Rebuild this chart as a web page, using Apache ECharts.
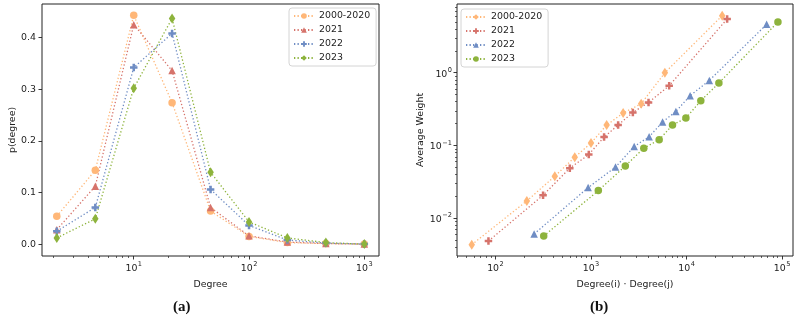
<!DOCTYPE html>
<html>
<head>
<meta charset="utf-8">
<script src="https://cdn.jsdelivr.net/npm/echarts@6/dist/echarts.min.js"></script>
<style>
  html, body { margin: 0; padding: 0; background: #fff; }
  #chart { width: 797px; height: 321px; }
</style>
</head>
<body>
<div id="chart"></div>
<script>
// (a) degree distribution
const degrees = [2.15, 4.64, 10, 21.5, 46.4, 100, 215, 464, 1000];
const pAll = [0.054, 0.143, 0.443, 0.274, 0.064, 0.015, 0.003, 0.001, 0.000];
const p2021 = [0.028, 0.112, 0.425, 0.336, 0.071, 0.016, 0.004, 0.001, 0.000];
const p2022 = [0.025, 0.071, 0.342, 0.408, 0.106, 0.036, 0.008, 0.002, 0.000];
const p2023 = [0.012, 0.049, 0.302, 0.437, 0.139, 0.043, 0.012, 0.003, 0.000];

// (b) average weight vs degree product
const xAll = [56.5, 213, 418, 676, 1000, 1458, 2170, 3350, 5930, 23600];
const wAll = [0.00434, 0.0173, 0.0378, 0.069, 0.108, 0.191, 0.279, 0.375, 1.0, 6.08];
const x2021 = [84.5, 315, 600, 948, 1371, 1923, 2742, 4000, 6580, 26600];
const w2021 = [0.00487, 0.0207, 0.0488, 0.0752, 0.1306, 0.191, 0.285, 0.39, 0.663, 5.48];
const x2022 = [254, 933, 1806, 2830, 4060, 5610, 7730, 10900, 17300, 68900];
const w2022 = [0.00608, 0.0264, 0.0505, 0.0969, 0.132, 0.21, 0.294, 0.483, 0.784, 4.62];
const x2023 = [320, 1193, 2286, 3570, 5170, 7130, 9840, 14100, 21800, 90400];
const w2023 = [0.0057, 0.024, 0.0523, 0.092, 0.12, 0.191, 0.238, 0.412, 0.722, 4.98];

const seriesNames = ["2000-2020", "2021", "2022", "2023"];
const colors = ["#ffb778", "#d6736b", "#6f8dc4", "#8db33c"];

// tick labels
const leftXTicks = [10, 100, 1000];
const leftYTicks = [0, 0.1, 0.2, 0.3, 0.4];
const rightXTicks = [100, 1000, 10000, 100000];
const rightYTicks = [0.01, 0.1, 1];

const FONT = "DejaVu Sans";
const FS = 9.4;
const PLUS = "path://M2,0H4V2H6V4H4V6H2V4H0V2H2Z";

// minor log ticks 2..9 x 10^k inside [lo, hi]
function minorTicks(lo, hi) {
  const out = [];
  for (let e = Math.floor(Math.log10(lo)); e <= Math.ceil(Math.log10(hi)); e++) {
    for (let m = 2; m <= 9; m++) {
      const v = m * Math.pow(10, e);
      if (v >= lo && v <= hi) out.push(v);
    }
  }
  return out;
}

function pow10Label(v) {
  const e = Math.round(Math.log10(v));
  return "{b|10}{e|" + (e < 0 ? "\u2212" + (-e) : e) + "}";
}

const supRich = {
  b: { fontFamily: FONT, fontSize: FS, color: "#222", lineHeight: 12, verticalAlign: "bottom" },
  e: { fontFamily: FONT, fontSize: 6.6, color: "#222", lineHeight: 12, verticalAlign: "top", padding: [0, 0, 0, 0.5] }
};

function logAxis(gridIndex, min, max, ticks, minor, extra) {
  return [
    Object.assign({
      type: "log", logBase: 10, gridIndex, min, max,
      axisLine: { show: false, onZero: false },
      splitLine: { show: false },
      axisTick: { show: true, length: 3.5, customValues: ticks, lineStyle: { color: "#222", width: 0.9 } },
      axisLabel: { customValues: ticks, formatter: pow10Label, rich: supRich, margin: 5, color: "#222" },
      nameTextStyle: { fontFamily: FONT, fontSize: FS, color: "#222" }
    }, extra),
    {
      type: "log", logBase: 10, gridIndex, min, max,
      position: extra.position,
      axisLine: { show: false, onZero: false },
      splitLine: { show: false },
      axisLabel: { show: false },
      axisTick: { show: true, length: 2, customValues: minor, lineStyle: { color: "#222", width: 0.7 } }
    }
  ];
}

const leftX = logAxis(0, 1.6, 1341, leftXTicks, minorTicks(1.6, 1341), {
  position: "bottom", name: "Degree", nameLocation: "middle", nameGap: 24
});
const rightX = logAxis(1, 39.6, 130000, rightXTicks, minorTicks(39.6, 130000), {
  position: "bottom", name: "Degree(i) \u00b7 Degree(j)", nameLocation: "middle", nameGap: 24
});
const rightY = logAxis(1, 0.00303, 8.8, rightYTicks, minorTicks(0.00303, 8.8), {
  position: "left", name: "Average Weight", nameLocation: "middle", nameGap: 32
});

const leftY = {
  type: "value", gridIndex: 0, min: -0.023, max: 0.465,
  axisLine: { show: false, onZero: false },
  splitLine: { show: false },
  axisTick: { show: true, length: 3.5, customValues: leftYTicks, lineStyle: { color: "#222", width: 0.9 } },
  axisLabel: { customValues: leftYTicks, formatter: v => v.toFixed(1), fontFamily: FONT, fontSize: FS, color: "#222", margin: 6 },
  name: "p(degree)", nameLocation: "middle", nameGap: 24,
  nameTextStyle: { fontFamily: FONT, fontSize: FS, color: "#222" }
};

const dotted = [1.3, 2.2];

function line(name, xs, ys, xAxisIndex, yAxisIndex, color, symbol, symbolSize) {
  return {
    name, type: "line", xAxisIndex, yAxisIndex,
    data: xs.map((x, i) => [x, ys[i]]),
    symbol, symbolSize, showSymbol: true,
    lineStyle: { color, width: 1.3, type: dotted },
    itemStyle: { color, borderWidth: 0 },
    emphasis: { disabled: true },
    animation: false
  };
}

const legendBase = {
  orient: "vertical",
  itemWidth: 20, itemHeight: 7, itemGap: 4,
  borderColor: "#d4d4d4", borderWidth: 1, borderRadius: 3,
  backgroundColor: "rgba(255,255,255,0.85)",
  padding: [3, 6, 3, 4],
  textStyle: { fontFamily: FONT, fontSize: FS, color: "#222", lineHeight: 10 },
  selectedMode: false
};

const chart = echarts.init(document.getElementById("chart"), null, { renderer: "canvas" });
chart.setOption({
  animation: false,
  textStyle: { fontFamily: FONT },
  grid: [
    { left: 42, right: 418, top: 4, bottom: 65, show: true, borderColor: "#222", borderWidth: 1, backgroundColor: "transparent" },
    { left: 457, right: 4, top: 4, bottom: 65, show: true, borderColor: "#222", borderWidth: 1, backgroundColor: "transparent" }
  ],
  xAxis: [...leftX, ...rightX],
  yAxis: [leftY, ...rightY],
  legend: [
    Object.assign({}, legendBase, { left: 289, top: 8, data: seriesNames }),
    Object.assign({}, legendBase, {
      left: 461, top: 9,
      data: seriesNames.map(n => "(b) " + n),
      formatter: n => n.replace("(b) ", "")
    })
  ],
  series: [
    line(seriesNames[0], degrees, pAll, 0, 0, colors[0], "circle", 7.5),
    line(seriesNames[1], degrees, p2021, 0, 0, colors[1], "triangle", 7.5),
    line(seriesNames[2], degrees, p2022, 0, 0, colors[2], PLUS, 7.5),
    line(seriesNames[3], degrees, p2023, 0, 0, colors[3], "diamond", [6.5, 10]),
    line("(b) " + seriesNames[0], xAll, wAll, 2, 1, colors[0], "diamond", [6.5, 10]),
    line("(b) " + seriesNames[1], x2021, w2021, 2, 1, colors[1], PLUS, 7.5),
    line("(b) " + seriesNames[2], x2022, w2022, 2, 1, colors[2], "triangle", 7.5),
    line("(b) " + seriesNames[3], x2023, w2023, 2, 1, colors[3], "circle", 7.5)
  ],
  graphic: [
    { type: "text", left: 173, top: 300, style: { text: "(a)", font: "bold 15px 'Liberation Serif'", fill: "#111" } },
    { type: "text", left: 590, top: 300, style: { text: "(b)", font: "bold 15px 'Liberation Serif'", fill: "#111" } }
  ]
});
</script>
</body>
</html>
